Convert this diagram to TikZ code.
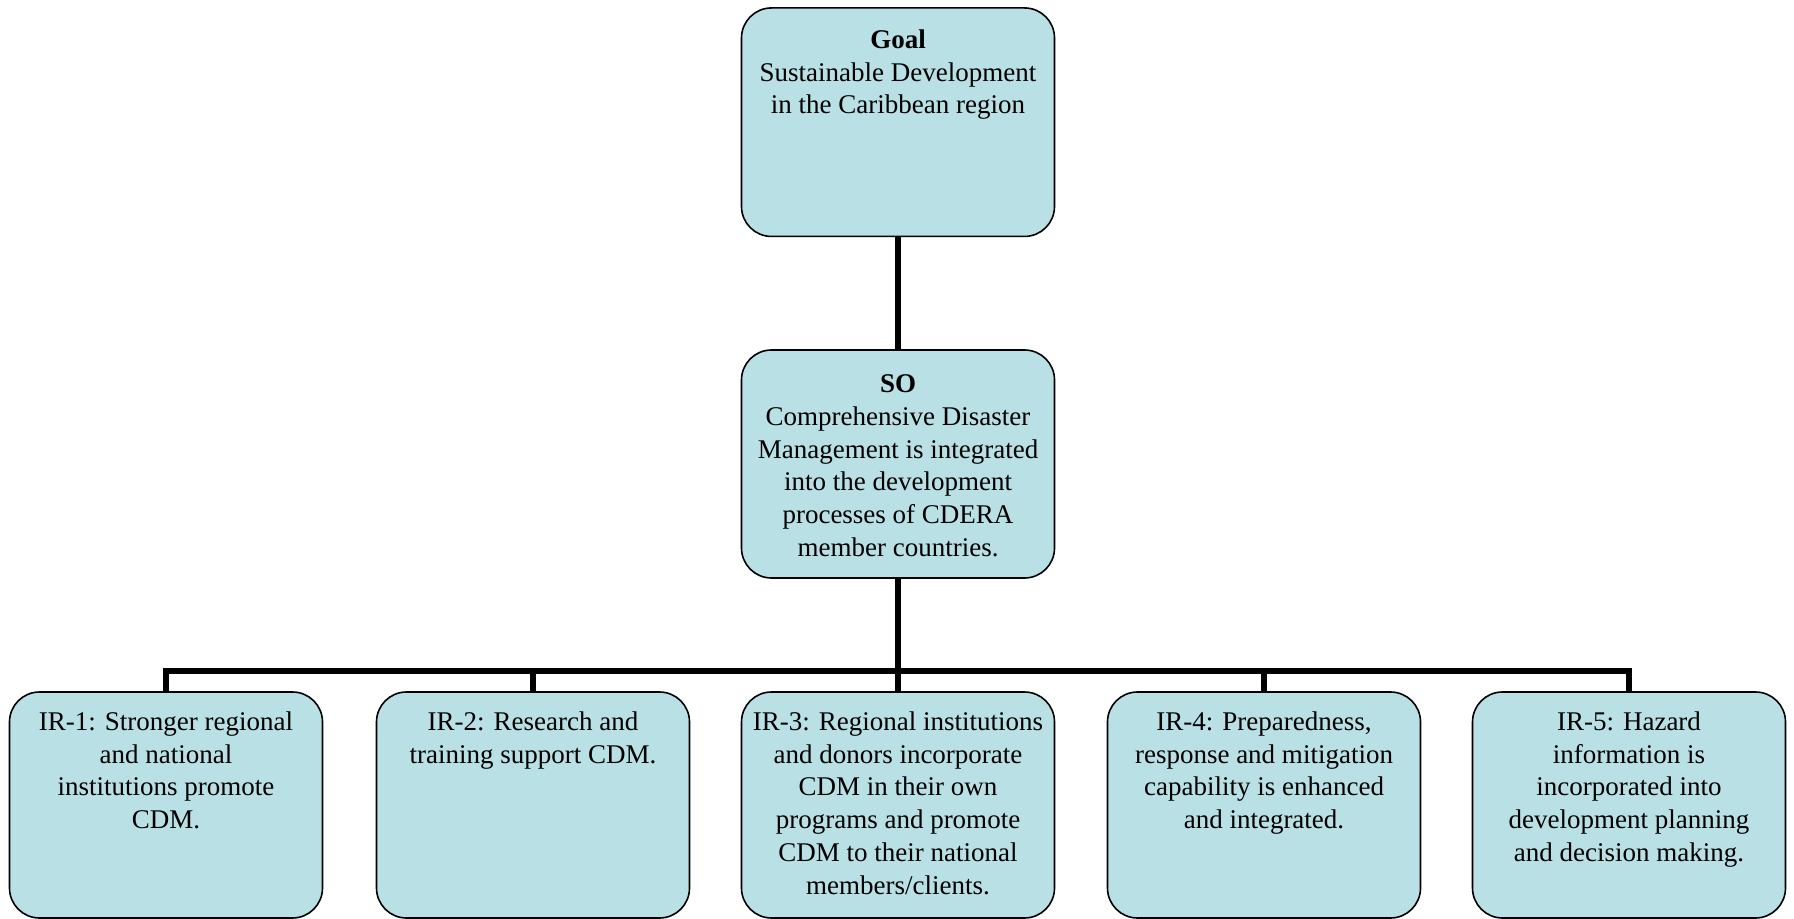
\documentclass[tikz,border=0pt]{standalone}
\usepackage{fontspec}
\setmainfont{Liberation Serif}
\definecolor{boxfill}{RGB}{185,224,228}

\begin{document}
\begin{tikzpicture}[
  box/.style={draw, fill=boxfill, line width=.8pt, rounded corners=15pt, minimum width=156.5pt, minimum height=113pt},
  boxtext/.style={anchor=north, align=center, inner sep=0pt, font=\fontsize{13.5pt}{16.4pt}\selectfont},
  conn/.style={line width=2.75pt}]
\useasboundingbox (0,0) rectangle (897pt,-459.5pt);
\node[box, minimum height=114.25pt] (goal) at (449pt,-61.1pt) {};
\node[box, minimum height=114pt] (so) at (449pt,-232pt) {};
\node[box] (ir1) at (83pt,-402.5pt) {};
\node[box] (ir2) at (266.5pt,-402.5pt) {};
\node[box] (ir3) at (449pt,-402.5pt) {};
\node[box] (ir4) at (632pt,-402.5pt) {};
\node[box] (ir5) at (814.5pt,-402.5pt) {};
\coordinate (bar) at (449pt,-335.5pt);
\draw[conn] (goal) -- (so);
\draw[conn] (so) -- (ir3);
\draw[conn] (ir1.north) |- (bar) -| (ir5.north);
\draw[conn] (ir2) -- (ir2 |- bar);
\draw[conn] (ir4) -- (ir4 |- bar);
\node[boxtext, yshift=-11pt] (goaltxt) at (goal.north) {\textbf{Goal}\\Sustainable Development\\in the Caribbean region};
\node[boxtext, yshift=-12.5pt] (sotxt) at (so.north) {\textbf{SO}\\Comprehensive Disaster\\Management is integrated\\into the development\\processes of CDERA\\member countries.};
\node[boxtext, yshift=-10pt] (ir1txt) at (ir1.north) {IR-1: Stronger regional\\and national\\institutions promote\\CDM.};
\node[boxtext, yshift=-10pt] (ir2txt) at (ir2.north) {IR-2: Research and\\training support CDM.};
\node[boxtext, yshift=-10pt] (ir3txt) at (ir3.north) {IR-3: Regional institutions\\and donors incorporate\\CDM in their own\\programs and promote\\CDM to their national\\members/clients.};
\node[boxtext, yshift=-10pt] (ir4txt) at (ir4.north) {IR-4: Preparedness,\\response and mitigation\\capability is enhanced\\and integrated.};
\node[boxtext, yshift=-10pt] (ir5txt) at (ir5.north) {IR-5: Hazard\\information is\\incorporated into\\development planning\\and decision making.};
\end{tikzpicture}
\end{document}
